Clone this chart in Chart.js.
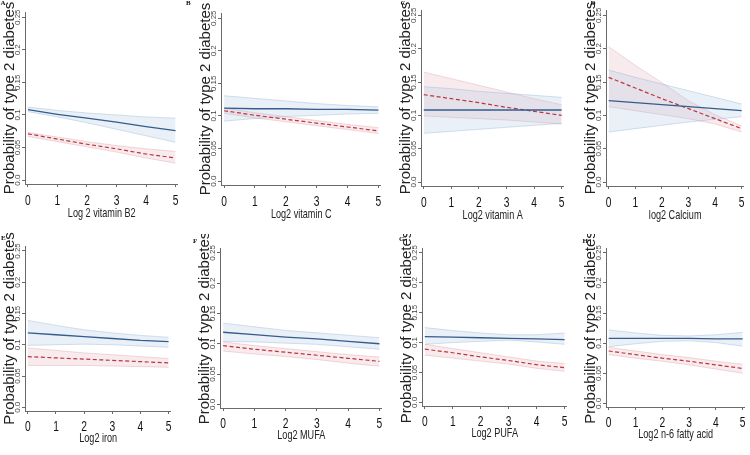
<!DOCTYPE html>
<html>
<head>
<meta charset="utf-8">
<script src="https://cdn.jsdelivr.net/npm/chart.js@4.4.1/dist/chart.umd.min.js"></script>
<style>
  html, body { margin: 0; padding: 0; background: #ffffff; }
  #wrap { position: relative; width: 750px; height: 455px; overflow: hidden; background: #ffffff; }
  canvas { position: absolute; }
</style>
</head>
<body>
<div id="wrap"></div>
<script>
// ---------------- DATA ----------------
const xValues = [0, 1, 2, 3, 4, 5];
const xTickLabels = ['0', '1', '2', '3', '4', '5'];
const yTickValues = [0, 0.05, 0.1, 0.15, 0.2, 0.25];
const yTickLabels = ['0.0', '0.05', '0.1', '0.15', '0.2', '0.25'];
const yTitle = 'Probability of type 2 diabetes';
const panelLetters = ['A', 'B', 'C', 'D', 'E', 'F', 'G', 'H'];
const xTitles = ['Log 2 vitamin B2', 'Log2 vitamin C', 'Log2 vitamin A', 'log2 Calcium',
                 'Log2 iron', 'Log2 MUFA', 'Log2 PUFA', 'Log2 n-6 fatty acid'];

// A: vitamin B2
const b2Blue   = [0.108, 0.101, 0.095, 0.089, 0.082, 0.076];
const b2BlueHi = [0.112, 0.107, 0.103, 0.100, 0.097, 0.095];
const b2BlueLo = [0.105, 0.097, 0.088, 0.078, 0.068, 0.058];
const b2Red    = [0.071, 0.063, 0.055, 0.048, 0.040, 0.034];
const b2RedHi  = [0.073, 0.066, 0.059, 0.053, 0.048, 0.044];
const b2RedLo  = [0.067, 0.059, 0.051, 0.043, 0.034, 0.026];
// B: vitamin C
const vcBlue   = [0.112, 0.111, 0.111, 0.110, 0.110, 0.109];
const vcBlueHi = [0.131, 0.127, 0.123, 0.119, 0.116, 0.114];
const vcBlueLo = [0.092, 0.096, 0.099, 0.101, 0.103, 0.104];
const vcRed    = [0.108, 0.101, 0.095, 0.089, 0.083, 0.077];
const vcRedHi  = [0.112, 0.105, 0.099, 0.093, 0.087, 0.082];
const vcRedLo  = [0.104, 0.097, 0.091, 0.085, 0.079, 0.073];
// C: vitamin A
const vaBlue   = [0.108, 0.108, 0.108, 0.108, 0.108, 0.108];
const vaBlueHi = [0.143, 0.140, 0.136, 0.133, 0.130, 0.127];
const vaBlueLo = [0.073, 0.076, 0.079, 0.082, 0.085, 0.088];
const vaRed    = [0.131, 0.125, 0.119, 0.112, 0.106, 0.100];
const vaRedHi  = [0.165, 0.155, 0.145, 0.135, 0.125, 0.116];
const vaRedLo  = [0.099, 0.097, 0.095, 0.093, 0.090, 0.087];
// D: calcium
const caBlue   = [0.122, 0.119, 0.116, 0.113, 0.110, 0.107];
const caBlueHi = [0.168, 0.157, 0.147, 0.137, 0.127, 0.117];
const caBlueLo = [0.075, 0.080, 0.085, 0.090, 0.094, 0.098];
const caRed    = [0.157, 0.141, 0.125, 0.110, 0.095, 0.080];
const caRedHi  = [0.203, 0.175, 0.149, 0.122, 0.101, 0.084];
const caRedLo  = [0.113, 0.107, 0.101, 0.095, 0.087, 0.075];
// E: iron
const feBlue   = [0.119, 0.116, 0.113, 0.110, 0.107, 0.105];
const feBlueHi = [0.139, 0.131, 0.124, 0.119, 0.115, 0.112];
const feBlueLo = [0.099, 0.100, 0.101, 0.100, 0.098, 0.096];
const feRed    = [0.081, 0.079, 0.077, 0.075, 0.073, 0.071];
const feRedHi  = [0.095, 0.091, 0.087, 0.084, 0.081, 0.078];
const feRedLo  = [0.067, 0.067, 0.067, 0.066, 0.065, 0.064];
// F: MUFA
const mufaBlue   = [0.119, 0.115, 0.111, 0.108, 0.104, 0.100];
const mufaBlueHi = [0.134, 0.128, 0.122, 0.118, 0.114, 0.110];
const mufaBlueLo = [0.104, 0.103, 0.101, 0.099, 0.095, 0.091];
const mufaRed    = [0.097, 0.091, 0.086, 0.081, 0.076, 0.071];
const mufaRedHi  = [0.103, 0.097, 0.092, 0.087, 0.082, 0.078];
const mufaRedLo  = [0.088, 0.083, 0.079, 0.074, 0.068, 0.063];
// G: PUFA
const pufaBlue   = [0.110, 0.109, 0.108, 0.107, 0.106, 0.105];
const pufaBlueHi = [0.125, 0.120, 0.116, 0.113, 0.113, 0.116];
const pufaBlueLo = [0.097, 0.100, 0.102, 0.104, 0.101, 0.097];
const pufaRed    = [0.089, 0.083, 0.076, 0.070, 0.063, 0.058];
const pufaRedHi  = [0.097, 0.090, 0.083, 0.076, 0.069, 0.065];
const pufaRedLo  = [0.079, 0.074, 0.069, 0.064, 0.057, 0.052];
// H: n-6 fatty acid
const n6Blue   = [0.108, 0.108, 0.108, 0.108, 0.107, 0.107];
const n6BlueHi = [0.122, 0.117, 0.113, 0.112, 0.114, 0.118];
const n6BlueLo = [0.094, 0.099, 0.103, 0.104, 0.101, 0.095];
const n6Red    = [0.087, 0.081, 0.075, 0.070, 0.064, 0.058];
const n6RedHi  = [0.093, 0.087, 0.081, 0.076, 0.070, 0.065];
const n6RedLo  = [0.081, 0.075, 0.070, 0.064, 0.057, 0.050];

const panelSeries = [
  [b2Blue, b2BlueHi, b2BlueLo, b2Red, b2RedHi, b2RedLo],
  [vcBlue, vcBlueHi, vcBlueLo, vcRed, vcRedHi, vcRedLo],
  [vaBlue, vaBlueHi, vaBlueLo, vaRed, vaRedHi, vaRedLo],
  [caBlue, caBlueHi, caBlueLo, caRed, caRedHi, caRedLo],
  [feBlue, feBlueHi, feBlueLo, feRed, feRedHi, feRedLo],
  [mufaBlue, mufaBlueHi, mufaBlueLo, mufaRed, mufaRedHi, mufaRedLo],
  [pufaBlue, pufaBlueHi, pufaBlueLo, pufaRed, pufaRedHi, pufaRedLo],
  [n6Blue, n6BlueHi, n6BlueLo, n6Red, n6RedHi, n6RedLo]
];

// ---------------- LAYOUT (pixel calibration of each panel) ----------------
const panelLayout = [
  { px0: 28.3,  px5: 175.7, py0: 180.0, py25: 17,  lx: 0.5,   ly: 5 },
  { px0: 224,   px5: 378,   py0: 181.5, py25: 18,  lx: 186,   ly: 4.5 },
  { px0: 424,   px5: 562,   py0: 181.7, py25: 15,  lx: 400.5, ly: 5 },
  { px0: 609,   px5: 741.7, py0: 181.7, py25: 15,  lx: 590.5, ly: 4.5 },
  { px0: 28,    px5: 169,   py0: 407.5, py25: 251, lx: 1,     ly: 240 },
  { px0: 223.3, px5: 379.5, py0: 404,   py25: 253, lx: 193,   ly: 242.5 },
  { px0: 425,   px5: 564.6, py0: 402.5, py25: 253, lx: 399,   ly: 241 },
  { px0: 609,   px5: 742.7, py0: 403,   py25: 253, lx: 582.5, ly: 242.5 }
];
const X_MIN = -0.1, X_MAX = 5.05, Y_MIN = -0.006, Y_MAX = 0.258;
const PAD_L = 40, PAD_T = 14, PAD_R = 8, PAD_B = 42;

const BLUE = 'rgb(52,92,140)';
const RED = 'rgb(192,52,62)';
const BLUE_FILL = 'rgba(165,192,220,0.24)';
const RED_FILL = 'rgba(222,165,176,0.22)';
const BLUE_EDGE = 'rgba(140,170,205,0.45)';
const RED_EDGE = 'rgba(215,150,160,0.45)';
const AXIS = '#6a6a6a';

const textPlugin = {
  id: 'panelText',
  afterDraw(chart, args, opts) {
    const ctx = chart.ctx;
    const { left, right, top, bottom } = chart.chartArea;
    const xs = chart.scales.x, ys = chart.scales.y;
    ctx.save();
    ctx.textAlign = 'center';
    ctx.textBaseline = 'alphabetic';
    // y tick labels (rotated)
    ctx.fillStyle = '#444';
    ctx.font = '8px "Liberation Sans", Arial, sans-serif';
    yTickValues.forEach((v, i) => {
      const py = ys.getPixelForValue(v);
      ctx.save();
      ctx.translate(left - 4.6, py);
      ctx.rotate(-Math.PI / 2);
      ctx.fillText(yTickLabels[i], 0, 0);
      ctx.restore();
    });
    // x tick labels (condensed)
    ctx.fillStyle = '#111';
    ctx.font = '15.5px "Liberation Sans", Arial, sans-serif';
    xValues.forEach((v, i) => {
      const px = xs.getPixelForValue(v);
      ctx.save();
      ctx.translate(px, bottom + opts.tickBase);
      ctx.scale(0.66, 1);
      ctx.fillText(xTickLabels[i], 0, 0);
      ctx.restore();
    });
    // x title (condensed)
    ctx.fillStyle = '#222';
    ctx.font = '13px "Liberation Sans", Arial, sans-serif';
    ctx.save();
    ctx.translate(xs.getPixelForValue(2.5), bottom + opts.titleBase);
    ctx.scale(0.7, 1);
    ctx.fillText(opts.xTitle, 0, 0);
    ctx.restore();
    // panel letter
    ctx.fillStyle = '#111';
    ctx.font = 'bold 7px "Liberation Serif", "Times New Roman", serif';
    ctx.textAlign = 'left';
    ctx.fillText(opts.letter, opts.lx, opts.ly);
    ctx.restore();
  }
};

const wrap = document.getElementById('wrap');

panelLayout.forEach((L, p) => {
  const ppu = (L.px5 - L.px0) / 5;
  const ppy = (L.py0 - L.py25) / 0.25;
  const cl = Math.round(L.px0 + X_MIN * ppu);
  const cr = Math.round(L.px0 + X_MAX * ppu);
  const ct = Math.round(L.py25 - (Y_MAX - 0.25) * ppy);
  const cb = Math.round(L.py0 - Y_MIN * ppy);
  const canvasLeft = cl - PAD_L, canvasTop = ct - PAD_T;
  const w = (cr - cl) + PAD_L + PAD_R, h = (cb - ct) + PAD_T + PAD_B;

  const cv = document.createElement('canvas');
  cv.width = w; cv.height = h;
  cv.style.left = canvasLeft + 'px';
  cv.style.top = canvasTop + 'px';
  cv.style.width = w + 'px';
  cv.style.height = h + 'px';
  wrap.appendChild(cv);

  const s = panelSeries[p];
  const pts = arr => xValues.map((x, i) => ({ x: x, y: arr[i] }));
  const base = { pointRadius: 0, tension: 0, borderWidth: 1 };
  const datasets = [
    Object.assign({}, base, { data: pts(s[0]), borderColor: BLUE, borderWidth: 1.3, fill: false }),
    Object.assign({}, base, { data: pts(s[3]), borderColor: RED, borderWidth: 1.2, borderDash: [4, 2.5], fill: false }),
    Object.assign({}, base, { data: pts(s[2]), borderColor: BLUE_EDGE, borderWidth: 0.8, fill: false }),
    Object.assign({}, base, { data: pts(s[1]), borderColor: BLUE_EDGE, borderWidth: 0.8, backgroundColor: BLUE_FILL, fill: 2 }),
    Object.assign({}, base, { data: pts(s[5]), borderColor: RED_EDGE, borderWidth: 0.8, fill: false }),
    Object.assign({}, base, { data: pts(s[4]), borderColor: RED_EDGE, borderWidth: 0.8, backgroundColor: RED_FILL, fill: 4 })
  ];

  const bottomRow = p >= 4;
  new Chart(cv, {
    type: 'line',
    data: { datasets: datasets },
    plugins: [textPlugin],
    options: {
      responsive: false,
      animation: false,
      events: [],
      layout: { padding: { left: 0, top: PAD_T, right: PAD_R, bottom: 0 } },
      plugins: {
        legend: { display: false },
        tooltip: { enabled: false },
        panelText: {
          letter: panelLetters[p],
          xTitle: xTitles[p],
          lx: L.lx - canvasLeft,
          ly: L.ly - canvasTop,
          tickBase: bottomRow ? 19.5 : 21,
          titleBase: bottomRow ? 31 : 33
        }
      },
      scales: {
        x: {
          type: 'linear', min: X_MIN, max: X_MAX,
          afterBuildTicks: sc => { sc.ticks = xValues.map(v => ({ value: v })); },
          afterFit: sc => { sc.height = PAD_B; },
          ticks: { display: false },
          grid: { display: true, drawOnChartArea: false, drawTicks: true, tickLength: 3, color: AXIS, lineWidth: 1 },
          border: { display: true, color: AXIS, width: 1 }
        },
        y: {
          type: 'linear', min: Y_MIN, max: Y_MAX,
          afterBuildTicks: sc => { sc.ticks = yTickValues.map(v => ({ value: v })); },
          afterFit: sc => { sc.width = PAD_L; },
          ticks: { display: false },
          title: {
            display: true,
            text: yTitle,
            color: '#222',
            font: { family: '"Liberation Sans", Arial, sans-serif', size: 15, lineHeight: 1.2 },
            padding: { top: 15.5, bottom: 0 }
          },
          grid: { display: true, drawOnChartArea: false, drawTicks: true, tickLength: 3, color: AXIS, lineWidth: 1 },
          border: { display: true, color: AXIS, width: 1 }
        }
      }
    }
  });
});
</script>
</body>
</html>
